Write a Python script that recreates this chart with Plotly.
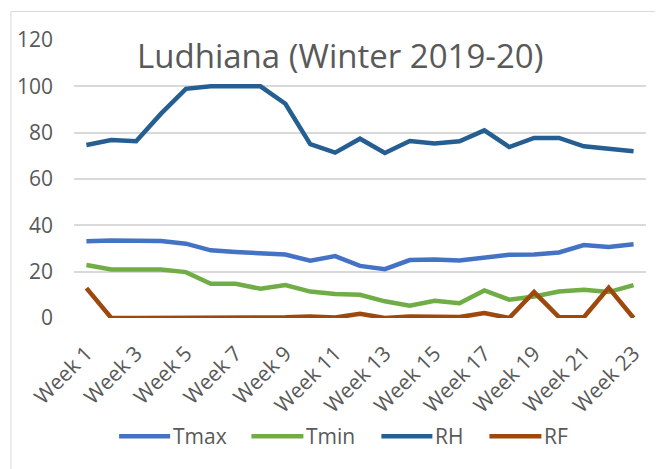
import plotly.graph_objects as go

weeks = [f"Week {i}" for i in range(1, 24)]
tmax = [33.1, 33.5, 33.3, 33.2, 32.1, 29.2, 28.5, 27.8, 27.4, 24.7, 26.7, 22.5,
        21.1, 25.0, 25.2, 24.8, 26.0, 27.3, 27.4, 28.3, 31.5, 30.7, 31.8]
tmin = [22.9, 20.9, 20.9, 20.9, 19.8, 14.8, 14.8, 12.6, 14.2, 11.4, 10.4, 10.0,
        7.2, 5.3, 7.4, 6.4, 11.9, 7.9, 9.3, 11.4, 12.2, 11.2, 14.2]
rh = [74.7, 76.8, 76.3, 88.2, 98.9, 100, 100, 100, 92.5, 75.0, 71.4, 77.4,
      71.2, 76.4, 75.3, 76.3, 81.0, 73.8, 77.7, 77.7, 74.1, 73.1, 72.0]
rf = [12.9, 0, 0, 0, 0, 0, 0, 0, 0.3, 0.7, 0.2, 1.8,
      0, 0.7, 0.4, 0.4, 2.1, 0, 11.2, 0.4, 0.3, 13.0, 0]
series_names = ["Tmax", "Tmin", "RH", "RF"]
series_values = [tmax, tmin, rh, rf]
series_colors = ["#4472C4", "#70AD47", "#255E91", "#9E480E"]
tick_weeks = weeks[::2]
y_ticks = [0, 20, 40, 60, 80, 100, 120]
title_text = "Ludhiana (Winter 2019-20)"

FONT = "Open Sans"
GREY = "#595959"

# page-pixel layout (the page has an 8px body margin)
OFF = 8
W, H = 663 - OFF, 469 - OFF
PX0, PX1, PY0, PY1 = 73.6, 645.6, 40.0, 318.3   # plot area on the page


def px(x):
    return (x - PX0) / (PX1 - PX0)


def py(y):
    return (PY1 - y) / (PY1 - PY0)


fig = go.Figure()
for name, vals, col in zip(series_names, series_values, series_colors):
    fig.add_trace(go.Scatter(x=weeks, y=vals, name=name, mode="lines",
                             line=dict(color=col, width=4.5), showlegend=False))

# manual legend (long line keys as in the original)
legend_lines = [(116.7, 171.7), (249, 305), (379, 434), (487, 543)]
legend_y = 436.7
shapes = [dict(type="rect", xref="paper", yref="paper", x0=px(10.5), x1=px(680),
               y0=py(490), y1=py(11.5), line=dict(color="#D9D9D9", width=1),
               layer="below")]
annotations = [dict(text=title_text, xref="paper", yref="paper", x=px(339.5), y=py(56),
                    xanchor="center", yanchor="middle", showarrow=False,
                    font=dict(size=33, color=GREY, family=FONT))]
for (x0, x1), name, col in zip(legend_lines, series_names, series_colors):
    shapes.append(dict(type="line", xref="paper", yref="paper", x0=px(x0 + 2), x1=px(x1 - 2),
                       y0=py(legend_y), y1=py(legend_y),
                       line=dict(color=col, width=4.5)))
    annotations.append(dict(text=name, xref="paper", yref="paper", x=px(x1 - 1),
                            y=py(legend_y), xanchor="left", yanchor="middle",
                            showarrow=False, font=dict(size=21, color=GREY, family=FONT)))

fig.update_layout(
    width=W, height=H,
    margin=dict(l=PX0 - OFF, r=W - (PX1 - OFF), t=PY0 - OFF, b=H - (PY1 - OFF), autoexpand=False),
    paper_bgcolor="white", plot_bgcolor="white",
    font=dict(family=FONT, color=GREY, size=20),
    showlegend=False,
    xaxis=dict(type="category", categoryorder="array", categoryarray=weeks,
               range=[-0.5, 22.5], tickmode="array", tickvals=tick_weeks,
               ticktext=tick_weeks, tickangle=-45, showgrid=False, zeroline=False,
               showline=False, ticks="", ticklabelstandoff=18, automargin=False,
               tickfont=dict(size=21, color=GREY)),
    yaxis=dict(range=[0, 120], tickmode="array", tickvals=y_ticks,
               showgrid=True, gridcolor="#D9D9D9", gridwidth=1.5, zeroline=False,
               showline=False, ticks="", ticklabelstandoff=20, automargin=False,
               tickfont=dict(size=21, color=GREY)),
    annotations=annotations,
    shapes=shapes,
)

fig.write_html("out.html")
